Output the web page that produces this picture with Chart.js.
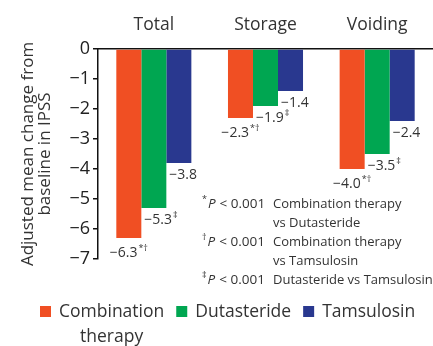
<!DOCTYPE html>
<html>
<head>
<meta charset="utf-8">
<script src="https://cdn.jsdelivr.net/npm/chart.js@4"></script>
<style>
  html, body { margin: 0; padding: 0; background: #fff; }
  #wrap { width: 433px; height: 346px; position: relative; }
</style>
</head>
<body>
<div id="wrap"><canvas id="ipssChart" width="433" height="346"></canvas></div>
<script>
// Data
const categories = ['Total', 'Storage', 'Voiding'];
const seriesNames = ['Combination therapy', 'Dutasteride', 'Tamsulosin'];
const combinationValues = [-6.3, -2.3, -4.0];
const dutasterideValues = [-5.3, -1.9, -3.5];
const tamsulosinValues = [-3.8, -1.4, -2.4];
const combinationMarks = ['*\u2020', '*\u2020', '*\u2020'];
const dutasterideMarks = ['\u2021', '\u2021', '\u2021'];
const tamsulosinMarks = ['', '', ''];
const yTicks = [0, -1, -2, -3, -4, -5, -6, -7];
const legendLines = [['Combination', 'therapy'], ['Dutasteride'], ['Tamsulosin']];
const footnotes = [
  { mark: '*', lines: ['Combination therapy', 'vs Dutasteride'] },
  { mark: '\u2020', lines: ['Combination therapy', 'vs Tamsulosin'] },
  { mark: '\u2021', lines: ['Dutasteride vs Tamsulosin'] }
];

const colors = ['#F04F23', '#00A651', '#29388F'];
const FONT = '"Open Sans", "Noto Sans", sans-serif';
const TEXT = '#333';

function fmt(v) {
  return v === 0 ? '0' : '\u2212' + Math.abs(v).toFixed(1);
}
function fmtTick(v) {
  return v === 0 ? '0' : '\u2212' + Math.abs(v);
}

// value labels under the bars
const valueLabels = {
  id: 'valueLabels',
  afterDatasetsDraw(chart) {
    const ctx = chart.ctx;
    const marks = [combinationMarks, dutasterideMarks, tamsulosinMarks];
    ctx.save();
    ctx.fillStyle = TEXT;
    ctx.textBaseline = 'middle';
    chart.data.datasets.forEach((ds, i) => {
      const meta = chart.getDatasetMeta(i);
      meta.data.forEach((bar, j) => {
        const txt = fmt(ds.data[j]);
        const mk = marks[i][j];
        ctx.font = '14px ' + FONT;
        const w = ctx.measureText(txt).width;
        ctx.font = '9px ' + FONT;
        const mw = mk ? ctx.measureText(mk).width + 1 : 0;
        let x, y;
        if (i === 0) {
          x = bar.x - (w + mw) / 2;
          y = bar.y + 15;
        } else {
          x = bar.x - bar.width / 2 + 3;
          y = bar.y + 12;
        }
        ctx.textAlign = 'left';
        ctx.font = '14px ' + FONT;
        ctx.fillText(txt, x, y);
        if (mk) {
          ctx.font = '9px ' + FONT;
          ctx.fillText(mk, x + w + 1, y - 5);
        }
      });
    });
    ctx.restore();
  }
};

// footnotes + legend
const extras = {
  id: 'extras',
  afterDraw(chart) {
    const ctx = chart.ctx;
    ctx.save();
    ctx.fillStyle = TEXT;
    ctx.textBaseline = 'middle';
    ctx.textAlign = 'left';

    let y = 204;
    footnotes.forEach(fn => {
      let x = 202;
      ctx.font = '9px ' + FONT;
      ctx.fillText(fn.mark, x, y - 5);
      x += ctx.measureText(fn.mark).width + 1;
      ctx.font = 'italic 13.5px ' + FONT;
      ctx.fillText('P', x, y);
      x += ctx.measureText('P').width + 4;
      ctx.font = '13.5px ' + FONT;
      ctx.fillText('< 0.001', x, y);
      ctx.font = '13px ' + FONT;
      fn.lines.forEach(line => {
        ctx.fillText(line, 273, y);
        y += 19;
      });
    });

    // legend
    let x = 40;
    const ly = 312;
    ctx.font = '17.5px ' + FONT;
    legendLines.forEach((lines, i) => {
      ctx.fillStyle = colors[i];
      ctx.fillRect(x, ly - 6, 11, 11);
      x += 19;
      ctx.fillStyle = TEXT;
      const w = ctx.measureText(lines[0]).width;
      ctx.fillText(lines[0], x, ly);
      if (lines[1]) {
        ctx.textAlign = 'center';
        ctx.fillText(lines[1], x + w / 2, ly + 25);
        ctx.textAlign = 'left';
      }
      x += w + 12;
    });
    ctx.restore();
  }
};

new Chart(document.getElementById('ipssChart'), {
  type: 'bar',
  data: {
    labels: categories,
    datasets: [
      { label: seriesNames[0], data: combinationValues, backgroundColor: colors[0] },
      { label: seriesNames[1], data: dutasterideValues, backgroundColor: colors[1] },
      { label: seriesNames[2], data: tamsulosinValues, backgroundColor: colors[2] }
    ]
  },
  options: {
    responsive: false,
    animation: false,
    categoryPercentage: 0.672,
    barPercentage: 1,
    layout: { padding: { top: 0, left: 0, right: 0, bottom: 87 } },
    plugins: {
      legend: { display: false },
      tooltip: { enabled: false }
    },
    scales: {
      x: {
        position: 'top',
        grid: { display: false },
        border: { display: true, color: '#111', width: 1.5 },
        ticks: { color: TEXT, font: { family: FONT, size: 17.5 }, padding: 5 },
        afterFit(scale) { scale.height = 49; }
      },
      y: {
        min: -7,
        max: 0,
        afterBuildTicks(scale) { scale.ticks = yTicks.map(v => ({ value: v })); },
        grid: { drawOnChartArea: false, drawTicks: true, tickLength: 5, color: '#111', lineWidth: 1.5 },
        border: { display: true, color: '#111', width: 1.5 },
        ticks: {
          color: '#222',
          font: { family: FONT, size: 18 },
          padding: 3,
          callback: v => fmtTick(v)
        },
        title: {
          display: true,
          text: ['Adjusted mean change from', 'baseline in IPSS'],
          color: TEXT,
          font: { family: FONT, size: 17, lineHeight: 1.0 },
          padding: { top: 20, bottom: 0 }
        },
        afterFit(scale) { scale.width = 98; }
      }
    }
  },
  plugins: [valueLabels, extras]
});
</script>
</body>
</html>
